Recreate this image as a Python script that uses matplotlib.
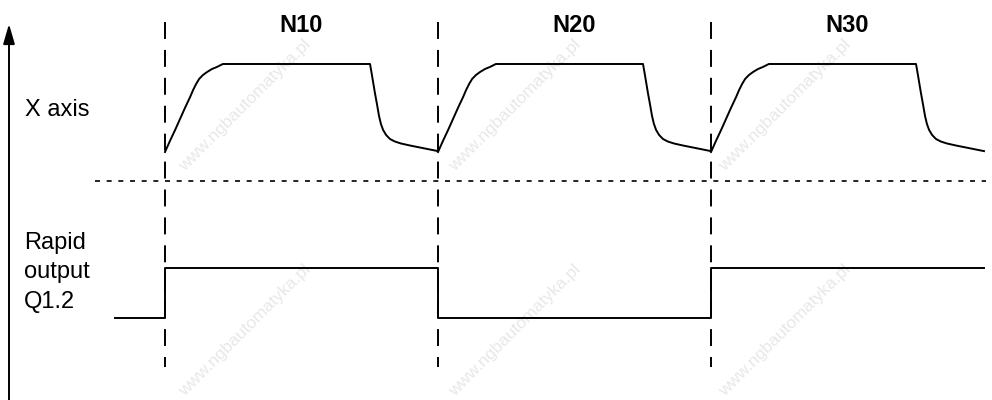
import numpy as np
import matplotlib
matplotlib.use('Agg')
import matplotlib.pyplot as plt

plt.rcParams['font.family'] = ['Liberation Sans', 'DejaVu Sans']
plt.rcParams['lines.scale_dashes'] = False

# blocs du programme (debut de chaque bloc, en unites de temps)
block_names = ['N10', 'N20', 'N30']
block_start = [0.0, 1.0, 2.0]
block_len = 1.0

# profil de position de l'axe X sur un bloc (fraction du bloc -> niveau 0..1)
x_phase = [0.0, 0.018, 0.037, 0.055, 0.073, 0.092, 0.103, 0.114, 0.125,
           0.139, 0.154, 0.172, 0.190, 0.212,
           0.751, 0.758, 0.769, 0.777, 0.784, 0.791, 0.799, 0.810, 0.824,
           0.842, 0.864, 0.897, 0.934, 0.971, 1.0]
x_level = [0.0, 0.125, 0.25, 0.375, 0.50, 0.625, 0.705, 0.773, 0.830,
           0.875, 0.909, 0.943, 0.966, 1.0,
           1.0, 0.875, 0.670, 0.534, 0.409, 0.318, 0.25, 0.193, 0.148,
           0.119, 0.097, 0.074, 0.051, 0.028, 0.01]

# sortie rapide Q1.2 : instants de commutation et etats
q_times = [-0.183, 0.0, 1.0, 2.0, 3.0]
q_states = [0, 1, 0, 1, 1]

# mise en page (pixels de la figure)
W, H = 992, 400
X0, T_PX = 165.0, 273.0
X_BASE, X_AMP = 152.0, 88.0
Q_BASE, Q_AMP = 318.0, 50.0


def px2t(px):
    return (px - X0) / T_PX


fig = plt.figure(figsize=(W / 100, H / 100), dpi=100)
ax = fig.add_axes([0, 0, 1, 1])
ax.set_xlim(px2t(0), px2t(W))
ax.set_ylim(H, 0)
ax.axis('off')

# filigrane
wm_pos = [(245, 105), (515, 105), (785, 105),
          (245, 330), (515, 330), (785, 330)]
for (px, py) in wm_pos:
    ax.text(px2t(px), py, 'www.ngbautomatyka.pl', rotation=45,
            ha='center', va='center', fontsize=12.5, color='#e8e8e8',
            zorder=0)

lw = 1.4

# limites des blocs
for t0 in block_start:
    ax.plot([t0, t0], [22, 367], color='black', lw=lw,
            dashes=(12.2, 7.9), zorder=2)

# separation entre les deux traces
ax.plot([px2t(95), px2t(986)], [181, 181], color='black', lw=1.2,
        dashes=(3.6, 4.8), zorder=2)

# trace de l'axe X
for t0 in block_start:
    t = t0 + np.array(x_phase) * block_len
    y = X_BASE - X_AMP * np.array(x_level)
    ax.plot(t, y, color='black', lw=lw, zorder=3, solid_joinstyle='round')

# trace de la sortie Q1.2
ax.step(q_times, Q_BASE - Q_AMP * np.array(q_states), where='post',
        color='black', lw=lw, zorder=3)

# noms des blocs
for name, t0 in zip(block_names, block_start):
    ax.text(t0 + block_len / 2, 32, name, ha='center', va='baseline',
            fontsize=17, fontweight='bold')

ax.text(px2t(25), 116, 'X axis', ha='left', va='baseline', fontsize=17)
ax.text(px2t(24), 308, 'Rapid\noutput\nQ1.2', ha='left', va='baseline',
        fontsize=17, linespacing=1.45)

# axes du diagramme
ax.annotate('', xy=(px2t(9), 24), xytext=(px2t(9), 402),
            arrowprops=dict(arrowstyle='-|>,head_length=1.2,head_width=0.35',
                            color='black', lw=lw, shrinkA=0, shrinkB=0))
ax.annotate('', xy=(px2t(1000), 402), xytext=(px2t(9), 402),
            arrowprops=dict(arrowstyle='-|>,head_length=1.2,head_width=0.35',
                            color='black', lw=lw, shrinkA=0, shrinkB=0))

fig.savefig('out.png', dpi=100)
